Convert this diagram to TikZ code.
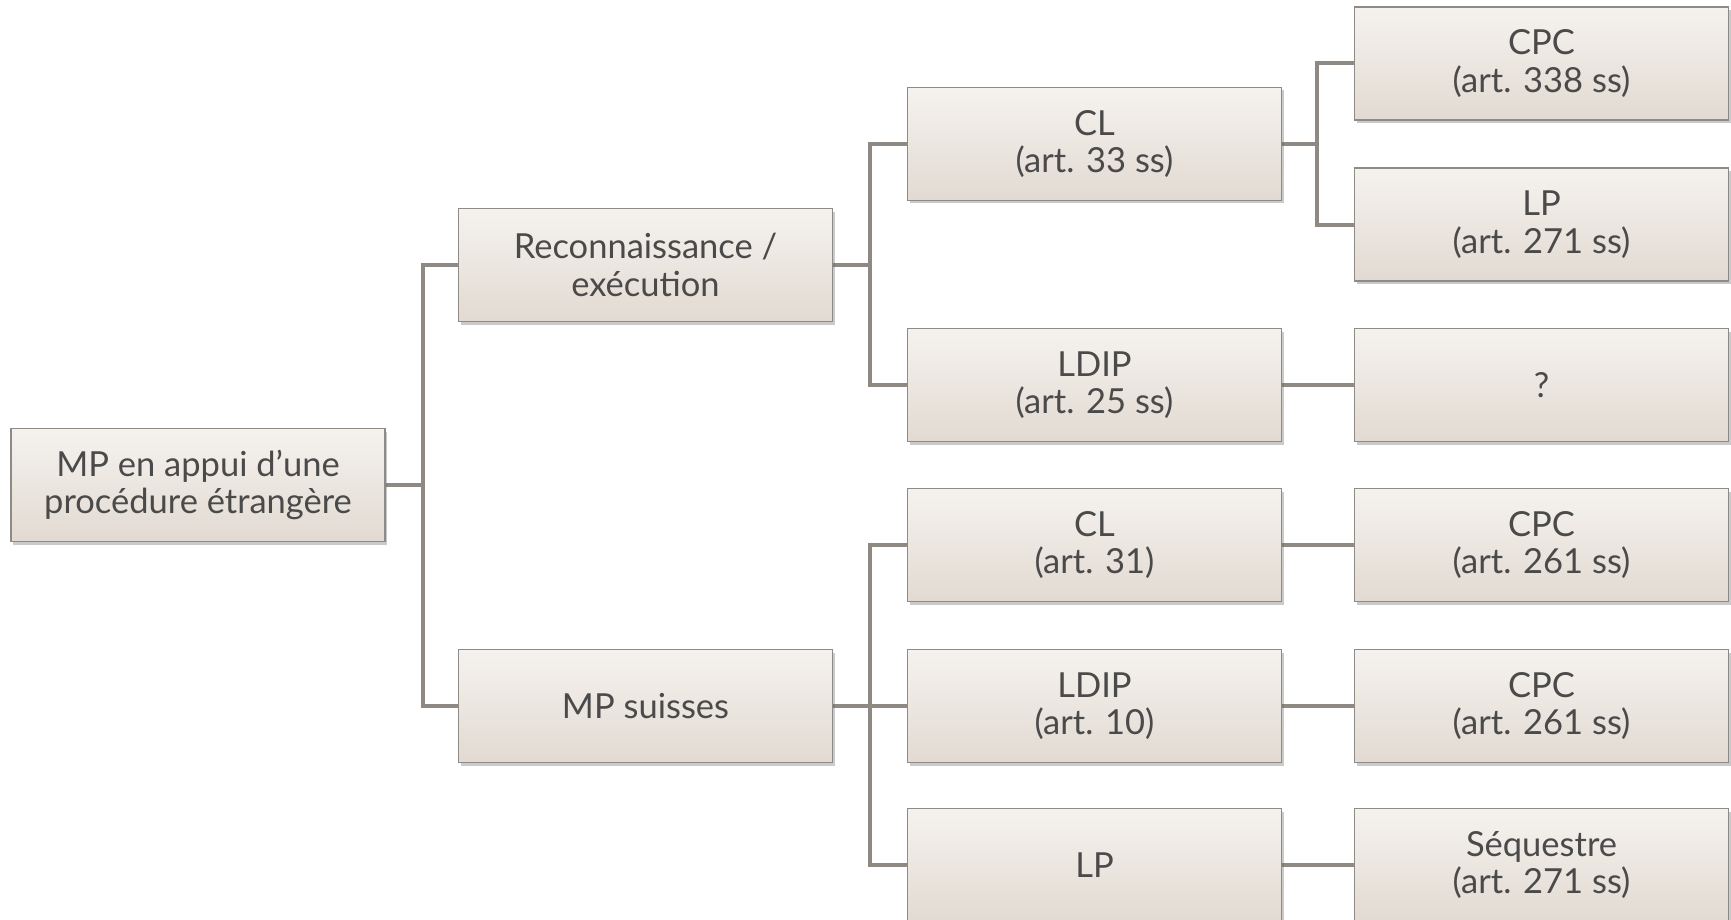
\documentclass[tikz,border=0pt]{standalone}
\usepackage{fontspec}
\setmainfont{Lato}
\usetikzlibrary{shadows,backgrounds}
\definecolor{boxtop}{HTML}{F5F2EE}
\definecolor{boxbot}{HTML}{E2DAD2}
\definecolor{boxline}{HTML}{8E8A85}
\definecolor{conn}{HTML}{8F8983}
\definecolor{txt}{HTML}{4A4A4A}
\tikzset{
  box/.style={rectangle, draw=boxline, line width=1.2pt, top color=boxtop, bottom color=boxbot,
    minimum width=374pt, minimum height=113pt, inner sep=2pt, align=center, text=txt,
    font=\fontsize{34.5}{37.5}\selectfont,
    drop shadow={shadow xshift=2pt, shadow yshift=-3pt, opacity=0.35, fill=black!60}},
  link/.style={draw=conn, line width=4pt}
}
\begin{document}
\begin{tikzpicture}[x=1pt,y=-1pt]
\useasboundingbox (0,0) rectangle (1731,920);
\clip (0,0) rectangle (1731,920);
\node[box] (root) at (198,485) {MP en appui d’une\\procédure étrangère};
\node[box] (recon) at (645.5,265) {Reconnaissance /\\exécution};
\node[box] (mps) at (645.5,706) {MP suisses};
\node[box] (cl33) at (1094.5,144) {CL\\(art. 33 ss)};
\node[box] (ldip25) at (1094.5,385) {LDIP\\(art. 25 ss)};
\node[box] (cl31) at (1094.5,545) {CL\\(art. 31)};
\node[box] (ldip10) at (1094.5,706) {LDIP\\(art. 10)};
\node[box] (lp) at (1094.5,865) {LP};
\node[box] (cpc338) at (1541.5,63.5) {CPC\\(art. 338 ss)};
\node[box] (lp271) at (1541.5,224.5) {LP\\(art. 271 ss)};
\node[box] (q) at (1541.5,385) {?};
\node[box] (cpc261a) at (1541.5,545) {CPC\\(art. 261 ss)};
\node[box] (cpc261b) at (1541.5,706) {CPC\\(art. 261 ss)};
\node[box] (seq) at (1541.5,865) {Séquestre\\(art. 271 ss)};
\begin{scope}[on background layer]
\draw[link] (root.east) -- ++(37,0) coordinate (j1) |- (recon.west);
\draw[link] (j1) |- (mps.west);
\draw[link] (recon.east) -- ++(37,0) coordinate (j2) |- (cl33.west);
\draw[link] (j2) |- (ldip25.west);
\draw[link] (mps.east) -- ++(37,0) coordinate (j3) |- (cl31.west);
\draw[link] (j3) |- (lp.west);
\draw[link] (j3) -- (ldip10.west);
\draw[link] (cl33.east) -- ++(35,0) coordinate (j4) |- (cpc338.west);
\draw[link] (j4) |- (lp271.west);
\draw[link] (ldip25) -- (q);
\draw[link] (cl31) -- (cpc261a);
\draw[link] (ldip10) -- (cpc261b);
\draw[link] (lp) -- (seq);
\end{scope}
\end{tikzpicture}
\end{document}
